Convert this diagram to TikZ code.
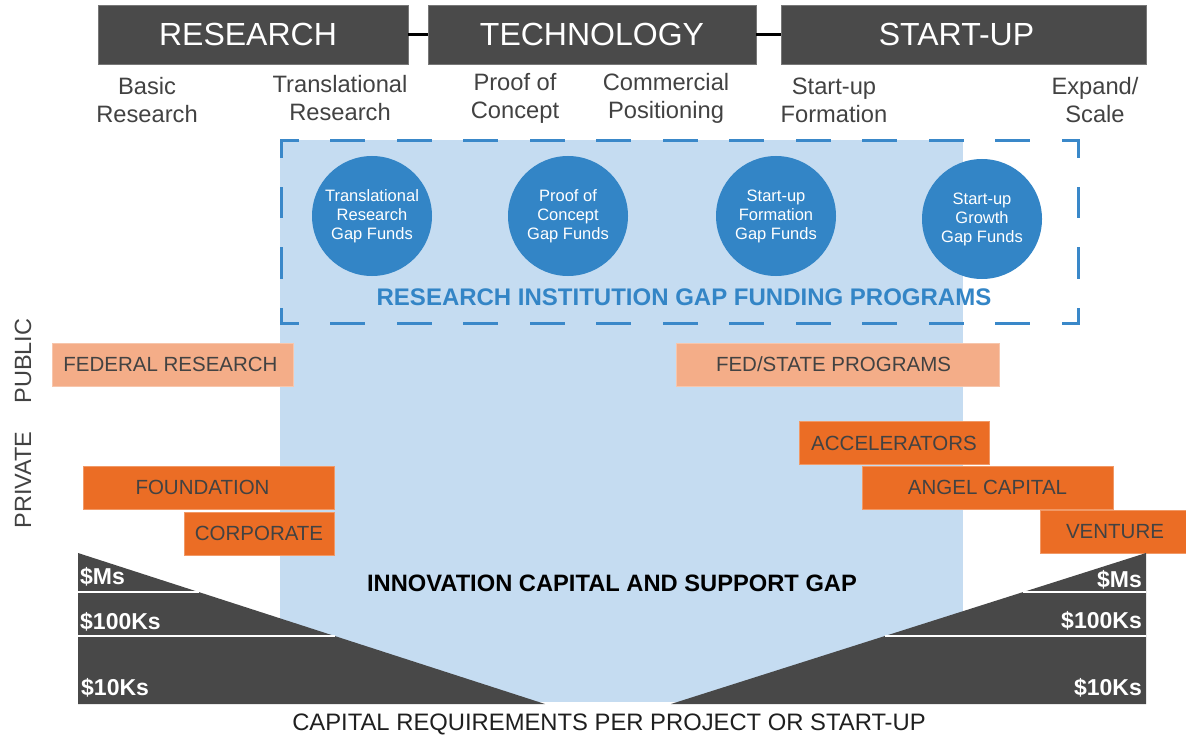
\documentclass[tikz,border=0pt]{standalone}
\usepackage{fontspec}
\setmainfont{Liberation Sans}
\usetikzlibrary{calc}

\definecolor{hdrgray}{HTML}{4A4A4A}
\definecolor{txtgray}{HTML}{424242}
\definecolor{gapblue}{HTML}{C5DCF1}
\definecolor{fundblue}{HTML}{3385C6}
\definecolor{dashblue}{HTML}{3A88C9}
\definecolor{pubsalmon}{HTML}{F4AD88}
\definecolor{privorange}{HTML}{EB6D25}
\definecolor{wedgegray}{HTML}{484848}

\newcommand{\padright}[1]{\rule{#1pt}{0pt}}

\begin{document}
\begin{tikzpicture}[x=1pt, y=-1pt,
                    hdrbox/.style={fill=hdrgray, draw=hdrgray!75!white, line width=0.8, minimum height=59, inner sep=0pt, text=white, font=\fontsize{32}{36}\selectfont},
                    stagelabel/.style={align=center, text=txtgray, inner sep=0pt, font=\fontsize{23.7}{28}\selectfont},
                    fund/.style={circle, fill=fundblue, minimum size=120, inner sep=0pt, text=white, align=center, font=\fontsize{16.5}{19}\selectfont},
                    srcbox/.style={minimum height=43, inner sep=0pt, line width=0.8, text=txtgray, font=\fontsize{20.5}{24}\selectfont},
                    pubbox/.style={srcbox, fill=pubsalmon, draw=pubsalmon!70!white},
                    privbox/.style={srcbox, fill=privorange, draw=privorange!70!white},
                    sector/.style={rotate=90, text=txtgray, font=\fontsize{23.5}{26}\selectfont},
                    amount/.style={text=white, inner sep=0pt, font=\bfseries\fontsize{23}{26}\selectfont},
                    gapdash/.style={draw=dashblue, line width=3, line cap=rect}]
                    \useasboundingbox (0,0) rectangle (1186,738);
                    \fill[gapblue] (280,140) rectangle (963,702);
                    \node[hdrbox, minimum width=310] (research) at (253,34.5) {RESEARCH\padright{10}};
                    \node[hdrbox, minimum width=328] (technology) at (592,34.5) {TECHNOLOGY};
                    \node[hdrbox, minimum width=365] (startup) at (963.5,34.5) {START-UP\padright{14}};
                    \draw[line width=3] (research.east) -- (technology.west);
                    \draw[line width=3] (technology.east) -- (startup.west);
                    \node[stagelabel] (basic) at (147,100) {Basic\\Research};
                    \node[stagelabel] (translational) at (340,98.5) {Translational\\Research};
                    \node[stagelabel] (proof) at (515,98.5) {Proof of\\Concept};
                    \node[stagelabel] (commercial) at (666,98.5) {Commercial\\Positioning};
                    \node[stagelabel] (formation) at (834,100) {Start-up\\Formation};
                    \node[stagelabel] (expand) at (1095,100) {Expand/\\Scale};
                    \coordinate (dNW) at (281,141);
                    \coordinate (dNE) at (1078,141);
                    \coordinate (dSE) at (1078,323);
                    \coordinate (dSW) at (281,323);
                    \draw[gapdash, dash pattern=on 32 off 34.5, dash phase=16] (dNW) -- (dNE);
                    \draw[gapdash, dash pattern=on 32 off 34.5, dash phase=16] (dSW) -- (dSE);
                    \draw[gapdash, dash pattern=on 28 off 32, dash phase=12] (dNW) -- (dSW);
                    \draw[gapdash, dash pattern=on 28 off 32, dash phase=12] (dNE) -- (dSE);
                    \node[fund] (transfund) at (372,216) {Translational\\Research\\Gap Funds};
                    \node[fund] (prooffund) at (568,216) {Proof of\\Concept\\Gap Funds};
                    \node[fund] (formfund) at (776,216) {Start-up\\Formation\\Gap Funds};
                    \node[fund] (growthfund) at (982,219) {Start-up\\Growth\\Gap Funds};
                    \node[text=fundblue, font=\bfseries\fontsize{24}{28}\selectfont] (programs) at (684,297) {RESEARCH INSTITUTION GAP FUNDING PROGRAMS};
                    \node[sector] (public) at (23,361) {PUBLIC};
                    \node[sector] (private) at (23,480) {PRIVATE};
                    \node[pubbox, minimum width=241] (federal) at (172.5,364.5) {FEDERAL RESEARCH\padright{4}};
                    \node[pubbox, minimum width=323] (fedstate) at (837.5,364.5) {FED/STATE PROGRAMS\padright{8}};
                    \node[privbox, minimum width=190] (accel) at (894,443) {ACCELERATORS};
                    \node[privbox, minimum width=251] (angel) at (987.5,487.5) {ANGEL CAPITAL};
                    \node[privbox, minimum width=150] (venture) at (1115,532) {VENTURE};
                    \node[privbox, minimum width=251] (foundation) at (208.5,487.5) {FOUNDATION\padright{12}};
                    \node[privbox, minimum width=150] (corporate) at (259,533.5) {CORPORATE};
                    \coordinate (lTop) at (78,553);
                    \coordinate (lBot) at (78,704);
                    \coordinate (lTip) at (545,704);
                    \coordinate (rTop) at (1146,553);
                    \coordinate (rBot) at (1146,704);
                    \coordinate (rTip) at (671,704);
                    \fill[wedgegray] (lTop) -- (lBot) -- (lTip) -- cycle;
                    \fill[wedgegray] (rTop) -- (rBot) -- (rTip) -- cycle;
                    \draw[white, line width=2] ($(lTop)!0.2583!(lBot)$) -- ($(lTop)!0.2583!(lTip)$);
                    \draw[white, line width=2] ($(lTop)!0.5497!(lBot)$) -- ($(lTop)!0.5497!(lTip)$);
                    \draw[white, line width=2] ($(rTop)!0.2583!(rBot)$) -- ($(rTop)!0.2583!(rTip)$);
                    \draw[white, line width=2] ($(rTop)!0.5497!(rBot)$) -- ($(rTop)!0.5497!(rTip)$);
                    \node[amount, anchor=west] (lMs) at (80,577) {\$Ms};
                    \node[amount, anchor=west] (lHundred) at (80,622) {\$100Ks};
                    \node[amount, anchor=west] (lTen) at (81,688) {\$10Ks};
                    \node[amount, anchor=east] (rMs) at (1142,580) {\$Ms};
                    \node[amount, anchor=east] (rHundred) at (1142,621) {\$100Ks};
                    \node[amount, anchor=east] (rTen) at (1142,688) {\$10Ks};
                    \node[font=\bfseries\fontsize{23.7}{28}\selectfont] (gapcaption) at (612,583) {INNOVATION CAPITAL AND SUPPORT GAP};
                    \node[text=black!88, font=\fontsize{23.8}{28}\selectfont] (capcaption) at (609,724) {CAPITAL REQUIREMENTS PER PROJECT OR START-UP};
                \end{tikzpicture}
\end{document}
